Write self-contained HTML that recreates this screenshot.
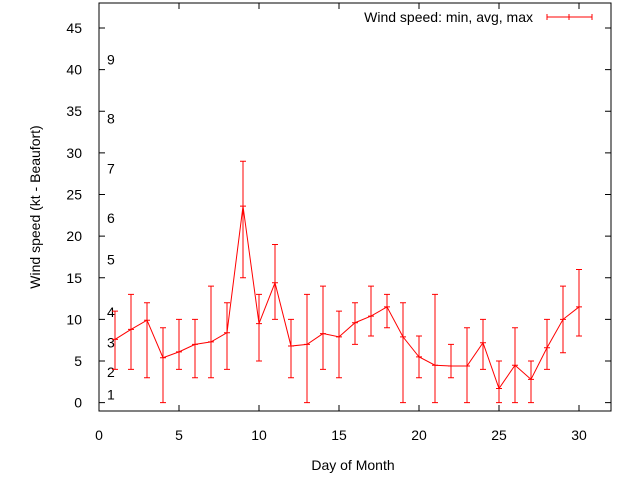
<!DOCTYPE html>
<html><head><meta charset="utf-8"><style>
body{margin:0;background:#fff}
svg text{font-family:"Liberation Sans",sans-serif;font-size:14px;fill:#000}
</style></head><body>
<svg id="chart" width="640" height="480" xmlns="http://www.w3.org/2000/svg">
<g id="axes"></g>
<g id="series"></g>
<text transform="translate(40,207) rotate(-90)" text-anchor="middle">Wind speed (kt - Beaufort)</text>
<text x="353" y="470" text-anchor="middle">Day of Month</text>
<g>
<text x="533" y="22" text-anchor="end">Wind speed: min, avg, max</text>
<path d="M547 17H592M547 14V20M592 14V20M569 14V20" stroke="#f00" stroke-width="1" fill="none"/>
</g>
</svg>
<script>
const days=[1,2,3,4,5,6,7,8,9,10,11,12,13,14,15,16,17,18,19,20,21,22,23,24,25,26,27,28,29,30];
const avgs=[7.6,8.8,9.9,5.4,6.1,7.0,7.3,8.4,23.6,9.5,14.4,6.8,7.0,8.3,7.9,9.6,10.4,11.5,7.9,5.5,4.5,4.4,4.4,7.2,1.7,4.5,2.8,6.6,10,11.5];
const mins=[4,4,3,0,4,3,3,4,15,5,10,3,0,4,3,7,8,9,0,3,0,3,0,4,0,0,0,4,6,8];
const maxs=[11,13,12,9,10,10,14,12,29,13,19,10,13,14,11,12,14,13,12,8,13,7,9,10,5,9,5,10,14,16];
const xTicks=[0,5,10,15,20,25,30];
const yTicks=[0,5,10,15,20,25,30,35,40,45];
const beaufort=[[1,1],[2,3.7],[3,7.2],[4,10.9],[5,17.2],[6,22.2],[7,28.1],[8,34.1],[9,41.2]];
const L=99,R=611,T=3,B=411,xmin=0,xmax=32,ymin=-1,ymax=48;
const xs=v=>L+(v-xmin)/(xmax-xmin)*(R-L);
const ys=v=>B-(v-ymin)/(ymax-ymin)*(B-T);
const NS='http://www.w3.org/2000/svg';
function mk(tag,attrs,parent){const e=document.createElementNS(NS,tag);for(const k in attrs)e.setAttribute(k,attrs[k]);parent.appendChild(e);return e;}
const ax=document.getElementById('axes'),se=document.getElementById('series');
let b=mk('rect',{x:L,y:T,width:R-L,height:B-T,fill:'none',stroke:'#000','stroke-width':1},ax);


xTicks.forEach(v=>{const x=xs(v);
 let p=mk('path',{d:`M${x} ${B}V${B-6}M${x} ${T}V${T+6}`,stroke:'#000','stroke-width':1},ax);
 
 
 let t=mk('text',{x:x,y:B+29,'text-anchor':'middle'},ax);t.textContent=v;
 
 
});
yTicks.forEach(v=>{const y=ys(v);
 let p=mk('path',{d:`M${L} ${y}H${L+6}M${R} ${y}H${R-6}`,stroke:'#000','stroke-width':1},ax);
 
 
 let t=mk('text',{x:82,y:y+5,'text-anchor':'end'},ax);t.textContent=v;
 
 
});
beaufort.forEach(([n,v])=>{
 let t=mk('text',{x:107,y:ys(v)+5},ax);t.textContent=n;
 
 
});
let d='';days.forEach((dd,i)=>{d+=(i?'L':'M')+xs(dd)+' '+ys(avgs[i]);});
let ln=mk('path',{d:d,stroke:'#f00','stroke-width':1,fill:'none'},se);


days.forEach((dd,i)=>{const x=xs(dd),y0=ys(mins[i]),y1=ys(maxs[i]),ya=ys(avgs[i]);
 let e=mk('path',{d:`M${x} ${y0}V${y1}M${x-3} ${y0}H${x+3}M${x-3} ${y1}H${x+3}M${x-3} ${ya}H${x+3}`,stroke:'#f00','stroke-width':1,fill:'none'},se);
 
 
});
</script>
</body></html>
